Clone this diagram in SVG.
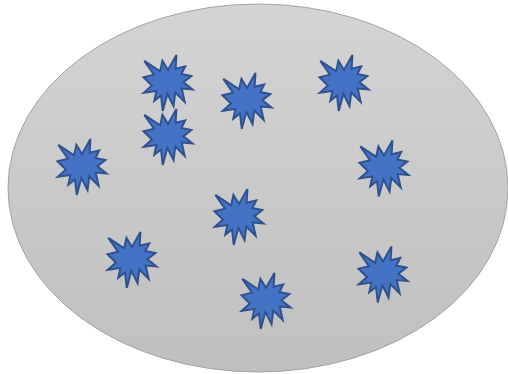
<svg xmlns="http://www.w3.org/2000/svg" xmlns:xlink="http://www.w3.org/1999/xlink" width="508" height="374" viewBox="0 0 508 374">
  <defs>
    <linearGradient id="bg" x1="0" y1="0" x2="0" y2="1">
      <stop offset="0" stop-color="#d4d4d4"/>
      <stop offset="1" stop-color="#bfbfbf"/>
    </linearGradient>
    <path id="star" d="M24.5,15.04 L32.94,0 L32.11,13.81 L41.7,11.56 L37.89,18.96 L47.86,21.1 L39.94,27.16 L49,34.46 L38.2,33.55 L41.16,46.91 L31.8,37.48 L30.05,51.17 L23.89,38.72 L19.25,56 L17.5,40.51 L10.8,45.67 L12.86,36.13 L0.31,37.82 L8.44,30.53 L0,22.34 L10.5,19.75 L0.84,5.95 L16.59,16.39 L18.95,5.95 Z"/>
  </defs>
  <style>
    .s { fill: #4472c4; stroke: #2f528f; stroke-width: 2; stroke-linejoin: miter; }
  </style>
  <g id="ellipse">
    <ellipse cx="258" cy="188" rx="250" ry="184" fill="url(#bg)" stroke="#a3a3a3" stroke-width="1"/>
  </g>
  <g id="star1"><use xlink:href="#star" class="s" transform="translate(143.5,55)"/></g>
  <g id="star2"><use xlink:href="#star" class="s" transform="translate(143.5,109)"/></g>
  <g id="star3"><use xlink:href="#star" class="s" transform="translate(222.5,73)"/></g>
  <g id="star4"><use xlink:href="#star" class="s" transform="translate(319.5,55)"/></g>
  <g id="star5"><use xlink:href="#star" class="s" transform="translate(57.5,139)"/></g>
  <g id="star6"><use xlink:href="#star" class="s" transform="translate(359.5,140.5)"/></g>
  <g id="star7"><use xlink:href="#star" class="s" transform="translate(214.5,189)"/></g>
  <g id="star8"><use xlink:href="#star" class="s" transform="translate(107.5,232)"/></g>
  <g id="star9"><use xlink:href="#star" class="s" transform="translate(241.5,273)"/></g>
  <g id="star10"><use xlink:href="#star" class="s" transform="translate(358.5,246.5)"/></g>
  <g id="connectors"/>
</svg>
